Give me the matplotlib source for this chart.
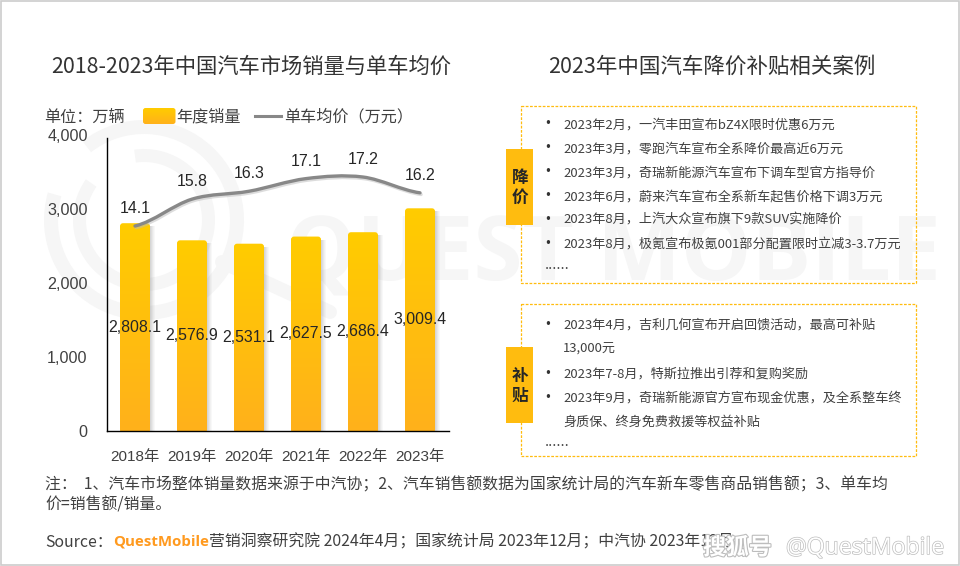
"""2018-2023年中国汽车市场销量与单车均价"""

import numpy as np
import matplotlib
matplotlib.use("Agg")
import matplotlib.pyplot as plt
import matplotlib.patheffects as pe
from matplotlib.patches import Rectangle, FancyBboxPatch, Wedge, PathPatch
from matplotlib.path import Path

years = ["2018年", "2019年", "2020年", "2021年", "2022年", "2023年"]
sales = [2808.1, 2576.9, 2531.1, 2627.5, 2686.4, 3009.4]
price = [14.1, 15.8, 16.3, 17.1, 17.2, 16.2]
y_ticks = [0, 1000, 2000, 3000, 4000]

cut_cases = [
    "2023年2月，一汽丰田宣布bZ4X限时优惠6万元",
    "2023年3月，零跑汽车宣布全系降价最高近6万元",
    "2023年3月，奇瑞新能源汽车宣布下调车型官方指导价",
    "2023年6月，蔚来汽车宣布全系新车起售价格下调3万元",
    "2023年8月，上汽大众宣布旗下9款SUV实施降价",
    "2023年8月，极氪宣布极氪001部分配置限时立减3-3.7万元",
]
subsidy_cases = [
    ("2023年4月，吉利几何宣布开启回馈活动，最高可补贴", True),
    ("13,000元", False),
    ("2023年7-8月，特斯拉推出引荐和复购奖励", True),
    ("2023年9月，奇瑞新能源官方宣布现金优惠，及全系整车终", True),
    ("身质保、终身免费救援等权益补贴", False),
]

CJK = ["Noto Sans CJK SC", "DejaVu Sans"]
NUM = ["Liberation Sans", "Noto Sans CJK SC"]
TXT = "#404040"
ORANGE = "#FFBC0F"
plt.rcParams["font.family"] = CJK

fig = plt.figure(figsize=(9.6, 5.66), dpi=100, facecolor="white")

# 背景用の座標はピクセルそのまま
bg = fig.add_axes([0, 0, 1, 1], zorder=0)
bg.set_xlim(0, 960)
bg.set_ylim(566, 0)
bg.axis("off")

# 透かしロゴ
wm = "#F6F6F6"
cx, cy = 144, 220
bg.add_patch(Wedge((cx, cy), 100, 232, 196 + 360, width=14, fc=wm, ec="none"))
bg.add_patch(Wedge((cx, cy), 71, 262, 215 + 360, width=13, fc=wm, ec="none"))
bg.plot([222, 330], [262, 312], color=wm, lw=10, solid_capstyle="round", zorder=1)
bg.text(286, 257, "QUEST MOBILE", color=wm, fontsize=64, family=["Open Sans", "DejaVu Sans"],
        weight="bold", va="center", ha="left", zorder=1)

# 外枠
bg.add_patch(Rectangle((0.5, 0.5), 958.5, 564.5, fc="none", ec="#CCCCCC", lw=1.2, zorder=2))

# タイトル
bg.text(51, 67, "2018-2023年中国汽车市场销量与单车均价", fontsize=15.35, color="#333333", va="center")
bg.text(548, 67, "2023年中国汽车降价补贴相关案例", fontsize=15.5, color="#333333", va="center")

# 凡例
bg.text(44, 117, "单位：万辆", fontsize=11.6, color=TXT, va="center")
grad = np.linspace(0, 1, 64).reshape(-1, 1)
cmap = matplotlib.colors.LinearSegmentedColormap.from_list("bar", ["#FFCC00", "#FFB11B"])
im = bg.imshow(grad, extent=[143, 175.5, 124, 108], cmap=cmap, aspect="auto", zorder=3)
sw = FancyBboxPatch((144, 109), 30.5, 14, boxstyle="round,pad=1,rounding_size=2.5",
                    fc="none", ec="none", transform=bg.transData)
bg.add_patch(sw)
im.set_clip_path(sw)
bg.set_xlim(0, 960)
bg.set_ylim(566, 0)
bg.text(176, 117, "年度销量", fontsize=11.6, color=TXT, va="center")
bg.plot([255, 281], [115.5, 115.5], color="#888888", lw=2.2, zorder=3)
bg.text(284, 117, "单车均价（万元）", fontsize=11.6, color=TXT, va="center")

# 棒グラフ
ax_top, ax_bottom, ax_left, ax_right = 135, 431, 106.5, 448.5
rect = [ax_left / 960, (566 - ax_bottom) / 566, (ax_right - ax_left) / 960, (ax_bottom - ax_top) / 566]
ax = fig.add_axes(rect, zorder=1)
ax.patch.set_visible(False)
x = np.arange(len(years))
ax.set_xlim(-0.5, 5.5)
ax.set_ylim(0, 4000)
bar_w = 30 / 57
px_x = 1 / 57
px_y = 4000 / (ax_bottom - ax_top)

for xi, v in zip(x, sales):
    # 影
    for k, a in zip([1, 2, 3, 4, 5], [0.30, 0.24, 0.17, 0.10, 0.05]):
        ax.add_patch(Rectangle((xi + bar_w / 2 + (k - 1) * px_x, 0), px_x, v - 3 * px_y,
                               fc="#777777", ec="none", alpha=a, zorder=1))
    box = FancyBboxPatch((xi - bar_w / 2 + 2 * px_x, 0), bar_w - 4 * px_x, v - 2 * px_y,
                         boxstyle=f"round,pad={2 * px_x},rounding_size={3 * px_x}",
                         mutation_aspect=px_y / px_x, fc="none", ec="none", zorder=2)
    ax.add_patch(box)
    img = ax.imshow(grad, extent=[xi - bar_w / 2, xi + bar_w / 2, 0, v], origin="upper",
                    cmap=cmap, aspect="auto", zorder=2)
    img.set_clip_path(box)
    ax.text(xi, v / 2, f"{v:,.1f}", fontsize=11.4, color="#262626", ha="center", va="center",
            family=NUM, zorder=6)

ax.set_xlim(-0.5, 5.5)
ax.set_ylim(0, 4000)
ax.set_xticks(x, years)
ax.set_yticks(y_ticks, [f"{t:,}" for t in y_ticks])
ax.tick_params(axis="both", length=0)
ax.tick_params(axis="x", pad=14, labelsize=11, labelcolor=TXT)
ax.tick_params(axis="y", pad=13.5, labelsize=11.6, labelcolor=TXT)
for lab in ax.get_xticklabels() + ax.get_yticklabels():
    lab.set_fontfamily(NUM)
for s in ["top", "right"]:
    ax.spines[s].set_visible(False)
ax.spines["left"].set_bounds(0, 3960)
ax.spines["left"].set_linewidth(1)
ax.spines["bottom"].set_linewidth(1)

# 折れ線 (なめらか)
ax2 = ax.twinx()
ax2.set_ylim(1.125, 19.86)
ax2.axis("off")
px_p = (19.86 - 1.125) / (ax_bottom - ax_top)
verts = [(x[0], price[0])]
codes = [Path.MOVETO]
for i in range(len(x) - 1):
    p0 = price[max(i - 1, 0)]
    p1 = price[i]
    p2 = price[i + 1]
    p3 = price[min(i + 2, len(x) - 1)]
    verts += [(x[i] + 1 / 3, p1 + (p2 - p0) / 6), (x[i + 1] - 1 / 3, p2 - (p3 - p1) / 6), (x[i + 1], p2)]
    codes += [Path.CURVE4] * 3
ax2.add_patch(PathPatch(Path(verts, codes), fc="none", ec="#888888", lw=2.4, capstyle="round",
                        path_effects=[pe.SimpleLineShadow(offset=(0.8, -1.2), shadow_color="#BBBBBB", alpha=0.5),
                                      pe.Normal()], zorder=4))
for xi, v in zip(x, price):
    ax2.text(xi, v + 17.5 * px_p, f"{v:.1f}", fontsize=11.4, color="#262626", ha="center", va="center",
             family=NUM, zorder=6)

# 右側の枠
def case_box(top, bottom, label_top, label_bottom, chars):
    bg.add_patch(Rectangle((520.5, top), 395, bottom - top, fc="none", ec="#FFBC0F", lw=0.9,
                           ls=(0, (2.2, 1.2)), zorder=3))
    bg.add_patch(Rectangle((506, label_top), 27, label_bottom - label_top, fc=ORANGE, ec="none", zorder=4))
    mid = (label_top + label_bottom) / 2
    bg.text(520, mid - 8.5, chars[0], fontsize=12, weight="bold", color="#262626", ha="center", va="center", zorder=5)
    bg.text(520, mid + 10.5, chars[1], fontsize=12, weight="bold", color="#262626", ha="center", va="center", zorder=5)


def case_lines(ys, lines, dot_y):
    for y, (s, bullet) in zip(ys, lines):
        if bullet:
            bg.text(547.5, y, "•", fontsize=8.5, color="#333333", ha="center", va="center",
                    family=["DejaVu Sans"], zorder=5)
        bg.text(563, y + 1, s, fontsize=9.45, color=TXT, va="center", zorder=5)
    bg.text(545, dot_y, "......", fontsize=10.5, color=TXT, va="center", zorder=5)


case_box(105.5, 282.5, 149, 225, "降价")
case_lines([124, 148, 172, 196, 219.5, 244], [(s, True) for s in cut_cases], 265)
case_box(303.5, 455.5, 347, 423, "补贴")
case_lines([324.5, 348, 373, 397, 421], subsidy_cases, 442)

# 注と出典
bg.text(45, 485.5, "注：  1、汽车市场整体销量数据来源于中汽协；2、汽车销售额数据为国家统计局的汽车新车零售商品销售额；3、单车均",
        fontsize=11.4, color=TXT, va="center")
bg.text(45, 504.5, "价=销售额/销量。", fontsize=11.4, color=TXT, va="center")
bg.text(45, 542.5, "Source：", fontsize=11.4, color=TXT, va="center")
bg.text(113, 541.5, "QuestMobile", fontsize=10.8, color="#FF9A1F", weight="bold", va="center",
        family=["Open Sans", "DejaVu Sans"])
bg.text(209, 542.5, "营销洞察研究院 2024年4月；国家统计局 2023年12月；中汽协 2023年12月", fontsize=11.4, color=TXT, va="center")

# 右下の透かし
stroke = [pe.withStroke(linewidth=1.6, foreground="#BDBDBD")]
bg.text(703, 548, "搜狐号", fontsize=16.5, weight="bold", color="white", va="center", path_effects=stroke, zorder=6)
bg.text(786, 548, "@QuestMobile", fontsize=16.6, color="white", va="center", family=["Open Sans", "DejaVu Sans"],
        path_effects=[pe.withStroke(linewidth=1.0, foreground="#BDBDBD")], zorder=6)

fig.savefig("out.png", dpi=100)
